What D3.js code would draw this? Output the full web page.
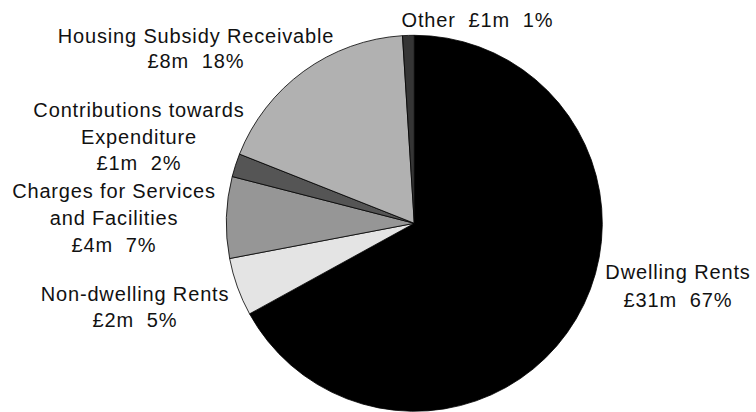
<!DOCTYPE html>
<html>
<head>
<meta charset="utf-8">
<script src="https://cdn.jsdelivr.net/npm/d3@7"></script>
<style>
  html, body { margin: 0; padding: 0; background: #fff; }
  svg { display: block; }
  .lbl { font-family: "Liberation Sans", Arial, Helvetica, sans-serif; font-size: 20px; letter-spacing: 0.85px; fill: #111; white-space: pre; }
</style>
</head>
<body>
<svg id="chart" width="756" height="412"></svg>
<script>
// Housing Revenue Account income sources
const categories = [
  "Dwelling Rents",
  "Non-dwelling Rents",
  "Charges for Services and Facilities",
  "Contributions towards Expenditure",
  "Housing Subsidy Receivable",
  "Other"
];
const amounts = [31, 2, 4, 1, 8, 1];      // £ million
const shares  = [67, 5, 7, 2, 18, 1];     // percent of total

// label wording, split into lines
const nameLines = [
  ["Dwelling Rents"],
  ["Non-dwelling Rents"],
  ["Charges for Services", "and Facilities"],
  ["Contributions towards", "Expenditure"],
  ["Housing Subsidy Receivable"],
  []
];

// slice shading
const fills = ["#000000", "#e4e4e4", "#969696", "#555555", "#b1b1b1", "#353535"];

// label placement: x, first baseline, line step, anchor
const labelLayout = [
  { x: 678, y: 279, dy: 27.5, anchor: "middle" },
  { x: 135, y: 300.5, dy: 26, anchor: "middle" },
  { x: 114, y: 197.5, dy: 27, anchor: "middle" },
  { x: 139, y: 117, dy: 26.5, anchor: "middle" },
  { x: 196, y: 42.7, dy: 25.6, anchor: "middle" },
  { x: 401.5, y: 26.5, dy: 0, anchor: "start" }
];

const svg = d3.select("#chart");
const cx = 414.3, cy = 223.3, radius = 188;

const data = categories.map((c, i) => ({ name: c, amount: amounts[i], share: shares[i], i }));

const pie = d3.pie().sort(null).value(d => d.share);
const arc = d3.arc().innerRadius(0).outerRadius(radius);

const g = svg.append("g").attr("transform", `translate(${cx},${cy})`);
g.selectAll("path")
  .data(pie(data))
  .join("path")
  .attr("d", arc)
  .attr("fill", d => fills[d.data.i])
  .attr("stroke", "#000")
  .attr("stroke-width", 0.8)
  .attr("stroke-linejoin", "round");

// labels
data.forEach((d, i) => {
  const L = labelLayout[i];
  const valueText = `£${d.amount}m  ${d.share}%`;
  let lines;
  if (d.name === "Other") lines = [`Other  ${valueText}`];
  else lines = nameLines[i].concat([valueText]);
  const t = svg.append("text")
    .attr("class", "lbl")
    .attr("text-anchor", L.anchor);
  lines.forEach((ln, k) => {
    t.append("tspan")
      .attr("x", L.x)
      .attr("y", L.y + k * L.dy)
      .text(ln);
  });
});
</script>
</body>
</html>
